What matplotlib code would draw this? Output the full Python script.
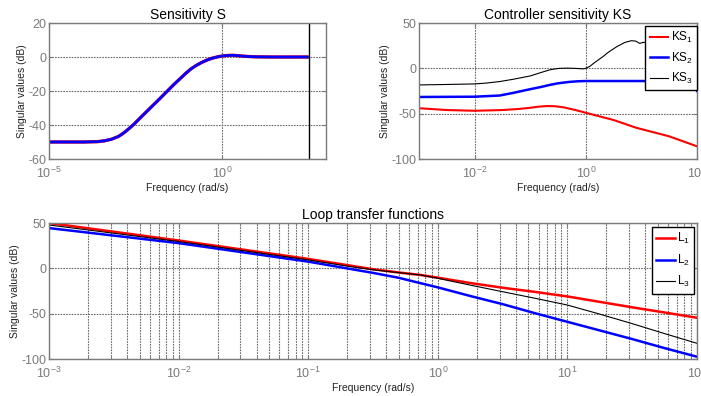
import numpy as np
import matplotlib
matplotlib.use("Agg")
import matplotlib.pyplot as plt
from matplotlib.ticker import FixedLocator, LogLocator, NullFormatter, FuncFormatter

plt.rcParams['font.family'] = ['Liberation Sans', 'DejaVu Sans']
plt.rcParams['mathtext.default'] = 'regular'
plt.rcParams['axes.unicode_minus'] = False

# ---------------- data ----------------
# Sensitivity S: log10(frequency) and singular values (dB)
s_logw = [-5.0, -4.0, -3.6, -3.4, -3.2, -3.0, -2.9, -2.8, -2.7, -2.55, -2.3, -2.0, -1.8, -1.58, -1.4,
          -1.2, -1.05, -0.9, -0.75, -0.6, -0.45, -0.3, -0.15, 0.0, 0.15, 0.3, 0.45, 0.6, 0.8, 1.0, 1.5, 2.5]
s_db   = [-50.0, -50.0, -49.8, -49.3, -48.4, -46.8, -45.5, -44.0, -42.3, -39.6, -34.5, -28.5, -24.5, -20.0, -16.3,
          -12.5, -9.6, -7.0, -5.0, -3.3, -1.9, -0.8, 0.0, 0.6, 0.9, 1.0, 0.8, 0.5, 0.25, 0.1, 0.0, 0.0]
s_marker_freq = 10 ** 2.5

# Controller sensitivity KS
ks1_logw = [-3.0, -2.5, -2.0, -1.5, -1.2, -1.0, -0.85, -0.71, -0.55, -0.4, -0.2, 0.0, 0.5, 0.91, 1.5, 2.0]
ks1_db   = [-44.0, -46.0, -46.8, -46.0, -44.8, -43.5, -42.3, -41.6, -41.8, -43.0, -45.8, -49.0, -57.0, -65.6, -75.0, -86.0]
ks2_logw = [-3.0, -2.0, -1.55, -1.3, -1.0, -0.8, -0.65, -0.5, -0.3, -0.15, 0.0, 1.0, 1.9, 2.0]
ks2_db   = [-31.6, -31.3, -30.0, -27.0, -23.0, -20.5, -18.3, -16.5, -15.0, -14.3, -14.0, -14.0, -14.5, -25.0]
ks3_logw = [-3.0, -2.5, -2.0, -1.8, -1.55, -1.3, -1.0, -0.8, -0.65, -0.55, -0.47, -0.35, -0.2, -0.05, 0.0,
            0.08, 0.15, 0.23, 0.31, 0.4, 0.56, 0.7, 0.82, 0.9, 0.97, 1.03, 1.5, 2.0]
ks3_db   = [-18.3, -17.8, -17.2, -16.3, -14.6, -12.0, -8.4, -4.5, -1.7, -0.6, 0.0, 0.2, 0.0, -0.6, 0.0,
            2.5, 6.0, 9.5, 13.0, 17.5, 24.0, 28.5, 30.5, 30.0, 27.5, 28.6, 27.0, 25.0]

# Loop transfer functions L
l_logw = [-3.0, -2.0, -1.0, -0.67, -0.5, -0.3, -0.13, 0.0, 0.25, 0.5, 0.75, 1.0, 1.25, 1.5, 1.75, 2.0]
l1_db  = [50.0, 30.7, 10.4, 2.9, -1.0, -4.6, -7.4, -10.3, -16.2, -21.4, -26.0, -31.0, -37.0, -43.0, -48.7, -54.5]
l2_db  = [44.4, 27.8, 7.4, -0.8, -5.0, -10.5, -16.5, -21.0, -30.5, -39.5, -49.5, -59.0, -68.5, -78.0, -88.0, -97.5]
l3_db  = [47.8, 29.6, 9.3, 1.8, -1.6, -4.8, -7.4, -11.0, -18.5, -25.8, -33.0, -40.5, -50.5, -61.0, -72.0, -82.7]

ks_labels = ['KS$_1$', 'KS$_2$', 'KS$_3$']
l_labels = ['L$_1$', 'L$_2$', 'L$_3$']

# ---------------- styling ----------------
W, H = 701, 396
fig = plt.figure(figsize=(W / 100, H / 100), dpi=100)

SPINE = '#7a7a7a'
TICKC = '#7a7a7a'
GRIDC = '#6a6a6a'
RED = '#ff0000'
BLUE = '#0000ff'


def px_axes(left, top, right, bottom):
    return fig.add_axes([left / W, 1 - bottom / H, (right - left) / W, (bottom - top) / H])


def logfmt(v, pos):
    e = int(round(np.log10(v)))
    return r'$10^{%d}$' % e


def style(ax, xt, yt, xlim, ylim, minor=False):
    ax.set_xscale('log')
    ax.set_xlim(*xlim)
    ax.set_ylim(*ylim)
    ax.xaxis.set_major_locator(FixedLocator(xt))
    ax.xaxis.set_major_formatter(FuncFormatter(logfmt))
    if minor:
        ax.xaxis.set_minor_locator(LogLocator(base=10, subs=np.arange(2, 10)))
    else:
        ax.xaxis.set_minor_locator(FixedLocator([]))
    ax.xaxis.set_minor_formatter(NullFormatter())
    ax.yaxis.set_major_locator(FixedLocator(yt))
    for s in ax.spines.values():
        s.set_color(SPINE)
        s.set_linewidth(1.0)
    ax.tick_params(which='both', direction='in', colors=SPINE, labelcolor=TICKC,
                   labelsize=9, top=True, right=True, length=3, pad=2)
    ax.tick_params(axis='x', which='major', pad=5)
    ax.tick_params(which='minor', length=2)
    ax.grid(True, which='major', color=GRIDC, linestyle=(0, (1.5, 1)), linewidth=0.8)
    if minor:
        ax.grid(True, which='minor', axis='x', color=GRIDC, linestyle=(0, (1.5, 1)), linewidth=0.8)
    ax.set_axisbelow(True)
    ax.set_xlabel('Frequency (rad/s)', fontsize=7.5, color='#222222', labelpad=1)
    ax.set_ylabel('Singular values (dB)', fontsize=7.5, color='#222222', labelpad=1)


# ---- Sensitivity S ----
ax1 = px_axes(49, 23, 326, 159)
w = 10 ** np.array(s_logw)
ax1.plot(w, s_db, color=RED, lw=2.4, solid_capstyle='butt')
ax1.plot(w, s_db, color=BLUE, lw=2.0, solid_capstyle='butt')
ax1.axvline(s_marker_freq, color='black', lw=1.0)
style(ax1, [1e-5, 1e0], [-60, -40, -20, 0, 20], (1e-5, 1e3), (-60, 20))
ax1.set_title('Sensitivity S', fontsize=10, pad=3)

# ---- Controller sensitivity KS ----
ax2 = px_axes(419, 23, 697, 159)
ax2.plot(10 ** np.array(ks1_logw), ks1_db, color=RED, lw=1.5, label=ks_labels[0])
ax2.plot(10 ** np.array(ks2_logw), ks2_db, color=BLUE, lw=1.8, label=ks_labels[1])
ax2.plot(10 ** np.array(ks3_logw), ks3_db, color='black', lw=0.8, label=ks_labels[2])
style(ax2, [1e-2, 1e0, 1e2], [-100, -50, 0, 50], (1e-3, 1e2), (-100, 50))
ax2.set_title('Controller sensitivity KS', fontsize=10, pad=3)
h, lab = ax2.get_legend_handles_labels()
leg2 = fig.legend(h, lab, loc='upper right', bbox_to_anchor=(697 / W, 1 - 26 / H),
                  bbox_transform=fig.transFigure, borderaxespad=0, fontsize=8.5,
                  handlelength=1.6, handletextpad=0.2, borderpad=0.35, labelspacing=0.45,
                  fancybox=False, framealpha=1, edgecolor='black')
leg2.get_frame().set_linewidth(1.0)

# ---- Loop transfer functions ----
ax3 = px_axes(49, 223, 697, 359)
lw_ = 10 ** np.array(l_logw)
ax3.plot(lw_, l1_db, color=RED, lw=1.8, label=l_labels[0])
ax3.plot(lw_, l2_db, color=BLUE, lw=1.8, label=l_labels[1])
ax3.plot(lw_, l3_db, color='black', lw=0.8, label=l_labels[2])
style(ax3, [1e-3, 1e-2, 1e-1, 1e0, 1e1, 1e2], [-100, -50, 0, 50], (1e-3, 1e2), (-100, 50), minor=True)
ax3.set_title('Loop transfer functions', fontsize=10, pad=3)
h, lab = ax3.get_legend_handles_labels()
leg3 = fig.legend(h, lab, loc='upper right', bbox_to_anchor=(694 / W, 1 - 227 / H),
                  bbox_transform=fig.transFigure, borderaxespad=0, fontsize=8.5,
                  handlelength=1.6, handletextpad=0.2, borderpad=0.35, labelspacing=0.55,
                  fancybox=False, framealpha=1, edgecolor='black')
leg3.get_frame().set_linewidth(1.0)

fig.savefig('out.png', dpi=100)
